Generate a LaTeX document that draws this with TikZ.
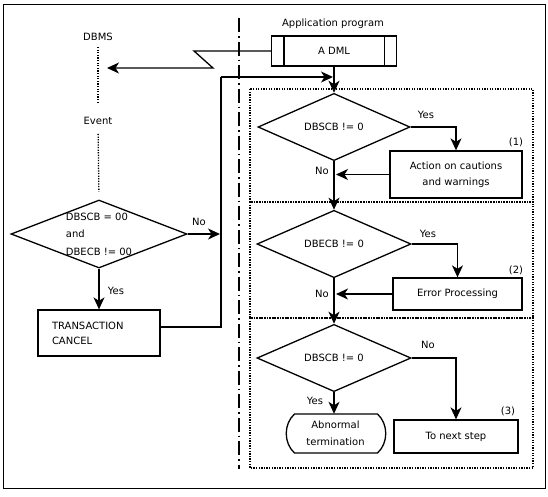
\documentclass[tikz,border=0pt]{standalone}
\usepackage{fontspec}
\setmainfont{DejaVu Sans}
\usetikzlibrary{shapes.geometric,arrows.meta,calc}
\begin{document}
\begin{tikzpicture}[x=1pt,y=-1pt,
  every node/.style={font=\fontsize{10pt}{12pt}\selectfont},
  ln/.style={line width=1.3pt},
  arr/.style={line width=1.3pt,-{Stealth[length=12pt,width=11pt,inset=3.5pt]}},
  box/.style={draw,line width=1.3pt,rectangle,inner sep=0pt},
  dia/.style={draw,line width=1.3pt,diamond,inner sep=0pt},
  dotbox/.style={line width=1.3pt,dash pattern=on 1.3pt off 1.3pt},
  dots/.style={line width=1.3pt,dash pattern=on 1.3pt off 1.3pt},
  lbl/.style={inner sep=0pt}
]
\useasboundingbox (0,0) rectangle (548,496);
\draw[line width=1pt] (3,4) rectangle (545,488);

% dash-dot separator
\draw[line width=1.3pt, dash pattern=on 14pt off 4pt on 1.5pt off 4pt] (239,18) -- (239,469);

% dotted frames
\draw[dotbox] (250,89) rectangle (533,202);
\draw[dotbox] (250,202) rectangle (533,318);
\draw[dotbox] (250,318) rectangle (533,468);

% left side
\node[lbl] (dbms) at (98,37) {DBMS};
\node[lbl] (event) at (98,121) {Event};
\node[dia, minimum width=176pt, minimum height=68pt] (d0) at (99,234) {};
\node[lbl, align=left, font=\fontsize{10pt}{17.5pt}\selectfont] (d0t) at (d0) {DBSCB = 00\\and\\DBECB != 00};
\node[box, minimum width=122pt, minimum height=46pt, text width=94pt, align=left,
      font=\fontsize{10pt}{15pt}\selectfont] (tc) at (99,333) {TRANSACTION\\CANCEL};

\draw[dots, shorten <=6pt, shorten >=13pt] (dbms.south) -- (event.north);
\draw[dots, shorten <=9pt, shorten >=8pt] (event.south) -- (d0.north);

% right side
\node[lbl] (app) at (333,24) {Application program};
\node[box, minimum width=125pt, minimum height=30pt] (adml) at (334,51) {A DML};
\draw[ln] ($(adml.north west)+(13,0)$) -- ($(adml.south west)+(13,0)$);
\draw[ln] ($(adml.north east)+(-13,0)$) -- ($(adml.south east)+(-13,0)$);

\node[dia, minimum width=152pt, minimum height=60pt] (d1) at (334,127) {DBSCB != 0};
\node[box, minimum width=132pt, minimum height=47pt, align=center,
      font=\fontsize{10pt}{16pt}\selectfont] (box1) at (456,174.5) {Action on cautions\\and warnings};
\node[dia, minimum width=154pt, minimum height=62pt] (d2) at (334,244) {DBECB != 0};
\node[box, minimum width=129pt, minimum height=32pt] (box2) at (457.5,294) {Error Processing};
\node[dia, minimum width=154pt, minimum height=62pt] (d3) at (334,358) {DBSCB != 0};
\node[box, minimum width=124pt, minimum height=33pt] (box3) at (456,436.5) {To next step};
\node[lbl, align=center, minimum width=96pt, minimum height=39pt,
      font=\fontsize{10pt}{17pt}\selectfont] (abn) at (335.5,433.5) {Abnormal\\termination};
\draw[ln, shift={(abn.center)}] (-41,-19.5) -- (42,-19.5)
   .. controls (53,-9.5) and (53,9.5) .. (42,19.5) -- (-41,19.5)
   .. controls (-52,9.5) and (-52,-9.5) .. (-41,-19.5) -- cycle;

% labels
\node[lbl] at (516,142) {(1)};
\node[lbl] at (516,270) {(2)};
\node[lbl] at (508,411) {(3)};
\node[lbl] at (199,222) {No};
\node[lbl] at (116,291) {Yes};
\node[lbl] at (426,115) {Yes};
\node[lbl] at (322,171) {No};
\node[lbl] at (428,234) {Yes};
\node[lbl] at (322,294) {No};
\node[lbl] at (428,345) {No};
\node[lbl] at (315,401) {Yes};

% coordinates
\coordinate (c0) at (220,234);
\coordinate (z1) at (194,51);
\coordinate (z2) at (213,68);
\coordinate (dbarr) at (107,68);
\coordinate (tcout) at ($(tc.east)+(0,-6)$);
\coordinate (corner) at (221,77);
\coordinate (join) at (333,77);

% connectors
\draw[arr] (d0.east) -- (c0);
\draw[arr] (d0.south) -- (tc.north);
\draw[ln] (tcout) -| (corner);
\draw[arr] (corner) -- (join);
\draw[arr] (adml.west) -- (z1) -- (z2) -- (dbarr);
\draw[arr] (adml.south) -- (d1.north);
\draw[arr] (d1.east) -| (box1.north);
\draw[arr, shorten >=2pt] (box1.west) -- (box1.west -| d1.south);
\draw[arr] (d1.south) -- (d2.north);
\draw[arr] (d2.east) -| (box2.north);
\draw[arr, shorten >=2pt] (box2.west) -- (box2.west -| d2.south);
\draw[arr] (d2.south) -- (d3.north);
\draw[arr] (d3.east) -| (box3.north);
\draw[arr] (d3.south) -- (d3.south |- abn.north);
\end{tikzpicture}
\end{document}
